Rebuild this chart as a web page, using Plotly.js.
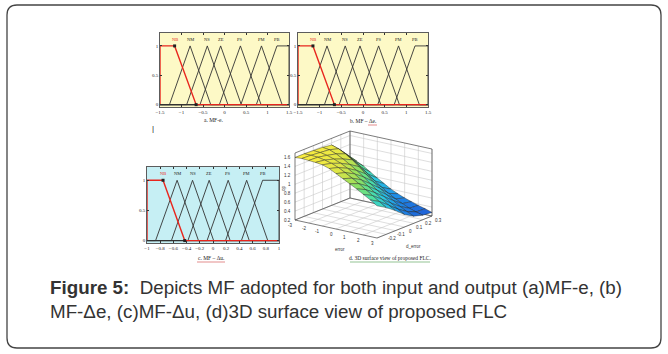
<!DOCTYPE html>
<html><head><meta charset="utf-8">
<script src="https://cdn.plot.ly/plotly-3.0.1.min.js"></script>
<style>html,body{margin:0;padding:0;background:#fff}#chart{width:668px;height:354px}</style>
</head><body><div id="chart"></div>
<script>
// ---- data ----
const mfNames = ['NB','NM','NS','ZE','PS','PM','PB'];
// triangle [a,b,c] / trapezoid [a,b,c,d] vertices
const mfE  = [[-1.5,-1.5,-1.16,-0.66],[-1.28,-0.80,-0.32],[-0.88,-0.40,0.08],[-0.57,-0.09,0.39],[-0.12,0.37,0.85],[0.38,0.86,1.34],[0.74,1.22,1.5,1.5]];
const mfDE = [[-1.5,-1.5,-1.155,-0.66],[-1.31,-0.83,-0.35],[-0.89,-0.41,0.07],[-0.55,-0.07,0.41],[-0.12,0.36,0.84],[0.34,0.82,1.30],[0.72,1.20,1.5,1.5]];
const mfDU = [[-1,-1,-0.757,-0.428],[-0.87,-0.544,-0.22],[-0.63,-0.31,0.01],[-0.38,-0.058,0.26],[-0.09,0.23,0.55],[0.19,0.51,0.83],[0.43,0.752,1,1]];
const rangeE = [-1.5, 1.5], rangeDE = [-1.5, 1.5], rangeDU = [-1, 1];
// 3D surface: op(error, d_error)
const errorVals  = [-3,-2.5,-2,-1.5,-1,-0.5,0,0.5,1,1.5,2,2.5,3];
const dErrorVals = [-0.3,-0.2,-0.1,0,0.1,0.2,0.3];
const opVals = [
  [1.60,1.61,1.60,1.59,1.57,1.52,1.44,1.36,1.28,1.20,1.11,1.02,0.92],
  [1.60,1.60,1.59,1.56,1.52,1.46,1.38,1.29,1.20,1.10,1.00,0.90,0.80],
  [1.59,1.58,1.55,1.50,1.44,1.36,1.27,1.17,1.06,0.95,0.84,0.74,0.65],
  [1.58,1.56,1.50,1.42,1.33,1.23,1.12,1.00,0.89,0.78,0.67,0.57,0.48],
  [1.55,1.50,1.42,1.32,1.20,1.07,0.94,0.82,0.71,0.61,0.51,0.43,0.36],
  [1.35,1.28,1.18,1.07,0.95,0.83,0.72,0.62,0.53,0.46,0.39,0.34,0.30],
  [1.10,1.06,0.98,0.88,0.78,0.69,0.60,0.53,0.47,0.42,0.37,0.33,0.28]
];
const errorTicks  = [-3,-2,-1,0,1,2,3];
const dErrorTicks = [-0.2,-0.1,0,0.1,0.2,0.3];
const opTicks     = [0.2,0.4,0.6,0.8,1,1.2,1.4,1.6];

// ---- helpers ----
const W = 668, H = 354;
const px = v => v / W, py = v => 1 - v / H;
const serif = 'Liberation Serif, Times New Roman, serif';

function mfLine(p, r) {
  if (p.length === 3) return {x:[r[0],p[0],p[1],p[2],r[1]], y:[0,0,1,0,0]};
  return {x:[r[0],p[0],p[1],p[2],p[3],r[1]], y:[0,0,1,1,0,0]};
}
const traces = [], annotations = [], shapes = [];
function addPanel(mfs, r, xa, ya, labelY) {
  mfs.forEach((p, i) => {
    if (i === 0) return;
    const l = mfLine(p, r);
    traces.push({type:'scatter', mode:'lines', x:l.x, y:l.y, xaxis:xa, yaxis:ya,
      line:{color:'#333', width:0.9}, hoverinfo:'skip', showlegend:false});
  });
  const nb = mfLine(mfs[0], r);
  traces.push({type:'scatter', mode:'lines', x:nb.x.slice(1), y:nb.y.slice(1), xaxis:xa, yaxis:ya,
    line:{color:'#e8261e', width:1.4}, hoverinfo:'skip', showlegend:false});
  traces.push({type:'scatter', mode:'markers', x:[mfs[0][2], mfs[0][3]], y:[1,0], xaxis:xa, yaxis:ya,
    marker:{symbol:'square', size:3, color:'#222'}, hoverinfo:'skip', showlegend:false});
  mfs.forEach((p, i) => {
    const cx = p.length === 3 ? p[1] : (i === 0 ? p[2] : p[1]);
    annotations.push({xref:xa, yref:ya, x:cx, y:labelY, xanchor:'center', yanchor:'middle', text:mfNames[i], showarrow:false,
      font:{family:serif, size:4.5, color: i === 0 ? '#e8261e' : '#222'}});
  });
}
addPanel(mfE, rangeE, 'x', 'y', 1.11);
addPanel(mfDE, rangeDE, 'x2', 'y2', 1.11);
addPanel(mfDU, rangeDU, 'x3', 'y3', 1.12);

// ---- 3D surface drawn as an orthographic projection on a pixel-space overlay axis ----
const xR = [-3,3], yR = [-0.3,0.3], zR = [0.2,1.7];
const O = [295,220], EX = [82,18], EY = [55,-22], EZ = [0,-67];
function proj(x, y, z) {
  const a = (x-xR[0])/(xR[1]-xR[0]), b = (y-yR[0])/(yR[1]-yR[0]), c = (z-zR[0])/(zR[1]-zR[0]);
  return [O[0]+EX[0]*a+EY[0]*b+EZ[0]*c, O[1]+EX[1]*a+EY[1]*b+EZ[1]*c];
}
const pLine = (pts, color, width) => {
  const pp = pts.map(p => proj(p[0],p[1],p[2]));
  traces.push({type:'scatter', mode:'lines', x:pp.map(p=>p[0]), y:pp.map(p=>p[1]), xaxis:'x4', yaxis:'y4',
    line:{color:color, width:width}, hoverinfo:'skip', showlegend:false});
};
const GRID = '#c8c8c8', BOX = '#444';
errorTicks.forEach(t => { pLine([[t,yR[0],zR[0]],[t,yR[1],zR[0]],[t,yR[1],zR[1]]], GRID, 0.6); });
dErrorTicks.forEach(t => { pLine([[xR[1],t,zR[0]],[xR[0],t,zR[0]],[xR[0],t,zR[1]]], GRID, 0.6); });
opTicks.forEach(t => { pLine([[xR[0],yR[0],t],[xR[0],yR[1],t],[xR[1],yR[1],t]], GRID, 0.6); });
pLine([[xR[0],yR[0],zR[1]],[xR[0],yR[0],zR[0]],[xR[0],yR[1],zR[0]],[xR[1],yR[1],zR[0]],[xR[1],yR[1],zR[1]]], BOX, 0.7);
pLine([[xR[0],yR[1],zR[0]],[xR[0],yR[1],zR[1]]], BOX, 0.7);
pLine([[xR[0],yR[0],zR[1]],[xR[0],yR[1],zR[1]],[xR[1],yR[1],zR[1]]], BOX, 0.7);
pLine([[xR[0],yR[0],zR[0]],[xR[1],yR[0],zR[0]],[xR[1],yR[1],zR[0]]], BOX, 0.7);

const cstops = [[0,[31,95,214]],[0.2,[31,143,232]],[0.4,[44,200,224]],[0.55,[79,224,160]],[0.7,[143,224,96]],[0.85,[216,228,72]],[1,[248,236,64]]];
const allZ = opVals.flat(), zMin = Math.min(...allZ), zMax = Math.max(...allZ);
function cmap(z) {
  const t = Math.max(0, Math.min(1, (z-zMin)/(zMax-zMin)));
  for (let i = 1; i < cstops.length; i++) {
    if (t <= cstops[i][0]) {
      const f = (t-cstops[i-1][0])/(cstops[i][0]-cstops[i-1][0]);
      const c = cstops[i-1][1].map((v,k) => Math.round(v + f*(cstops[i][1][k]-v)));
      return `rgb(${c[0]},${c[1]},${c[2]})`;
    }
  }
  return 'rgb(248,236,64)';
}
const cells = [];
for (let j = 0; j < dErrorVals.length-1; j++) for (let i = 0; i < errorVals.length-1; i++) {
  const c = [[i,j],[i+1,j],[i+1,j+1],[i,j+1]].map(([a,b]) => [errorVals[a], dErrorVals[b], opVals[b][a]]);
  const zAvg = c.reduce((s,p)=>s+p[2],0)/4;
  const key = 18*(i+0.5)/(errorVals.length-1) - 22*(j+0.5)/(dErrorVals.length-1);
  cells.push({c, zAvg, key});
}
cells.sort((a,b) => a.key - b.key);
cells.forEach(cell => {
  const pp = cell.c.concat([cell.c[0]]).map(p => proj(p[0],p[1],p[2]));
  traces.push({type:'scatter', mode:'lines', x:pp.map(p=>p[0]), y:pp.map(p=>p[1]), xaxis:'x4', yaxis:'y4',
    fill:'toself', fillcolor:cmap(cell.zAvg), line:{color:'#1e1e1e', width:0.4}, hoverinfo:'skip', showlegend:false});
});
const f3 = {family:'Liberation Sans, Arial', size:4.5, color:'#333'};
const a3 = (x, y, text, extra) => annotations.push(Object.assign({xref:'x4', yref:'y4', x:x, y:y, text:text,
  showarrow:false, xanchor:'center', yanchor:'middle', font:f3}, extra||{}));
errorTicks.forEach(t => { const p = proj(t, yR[0], zR[0]); a3(p[0]-5, p[1]+5, String(t)); });
dErrorTicks.forEach(t => { const p = proj(xR[1], t, zR[0]); a3(p[0]+6, p[1]+4, String(t)); });
opTicks.forEach(t => { const p = proj(xR[0], yR[0], t); a3(p[0]-2, p[1], String(t), {xanchor:'right'}); });
a3(283, 188, 'op', {textangle:-90});
a3(340, 249, 'error');
a3(413, 246, 'd_error');

function ax(domain, range, extra) {
  return Object.assign({domain:domain, range:range, showgrid:false, zeroline:false,
    showline:true, mirror:'ticks', linecolor:'#333', linewidth:0.8, ticks:'inside', ticklen:2,
    tickcolor:'#333', tickfont:{family:serif, size:5, color:'#222'}, fixedrange:true}, extra||{});
}
const yDomAB = [py(107), py(33)];
const layout = {
  width:W, height:H, margin:{l:0,r:0,t:0,b:0}, paper_bgcolor:'#fff', plot_bgcolor:'rgba(0,0,0,0)',
  showlegend:false, font:{family:serif},
  xaxis: ax([px(160), px(289)], rangeE, {anchor:'y', dtick:0.5}),
  yaxis: ax(yDomAB, [-0.04,1.22], {anchor:'x', tickvals:[0,0.5,1]}),
  xaxis2: ax([px(298), px(428)], rangeDE, {anchor:'y2', dtick:0.5}),
  yaxis2: ax(yDomAB, [-0.04,1.22], {anchor:'x2', tickvals:[0,0.5,1]}),
  xaxis3: ax([px(147), px(279)], rangeDU, {anchor:'y3', dtick:0.2}),
  yaxis3: ax([py(243), py(167)], [-0.04,1.22], {anchor:'x3', tickvals:[0,0.5,1]}),
  xaxis4: {domain:[0,1], range:[0,W], visible:false, fixedrange:true, anchor:'y4'},
  yaxis4: {domain:[0,1], range:[H,0], visible:false, fixedrange:true, anchor:'x4'},
  annotations: annotations,
  shapes: shapes
};
[['x','y','#fdf9c6'],['x2','y2','#fdf9c6'],['x3','y3','#c6eff4']].forEach(a => {
  shapes.push({type:'rect', xref:a[0]+' domain', yref:a[1]+' domain', x0:0, x1:1, y0:0, y1:1,
    fillcolor:a[2], line:{width:0}, layer:'below'});
});
const L = px(7), R = px(661), T = py(5), B = py(348), rx = px(10), ry = 10 / H;
shapes.push({type:'path', xref:'paper', yref:'paper', line:{color:'#444', width:1.3},
  path:`M ${L+rx},${T} L ${R-rx},${T} Q ${R},${T} ${R},${T-ry} L ${R},${B+ry} Q ${R},${B} ${R-rx},${B} L ${L+rx},${B} Q ${L},${B} ${L},${B+ry} L ${L},${T-ry} Q ${L},${T} ${L+rx},${T} Z`});

const sub = (text, x, y) => annotations.push({xref:'paper', yref:'paper', x:px(x), y:py(y), text:text,
  xanchor:'center', yanchor:'middle', showarrow:false, font:{family:serif, size:5.5, color:'#222'}});
sub('a. MF-e.', 213, 120);
sub('b. MF \u2013 \u0394e.', 363, 121);
sub('c. MF \u2013 \u0394u.', 211, 258);
sub('d. 3D surface view of proposed FLC.', 390, 258);
annotations.push({xref:'paper', yref:'paper', x:px(153), y:py(128), xanchor:'center', yanchor:'middle', text:'|', showarrow:false,
  font:{family:'Liberation Sans, Arial', size:8, color:'#222'}});
shapes.push({type:'line', xref:'paper', yref:'paper', x0:px(197), x1:px(225), y0:py(262), y1:py(262), line:{color:'#d04040', width:0.6}});
shapes.push({type:'line', xref:'paper', yref:'paper', x0:px(350), x1:px(430), y0:py(262), y1:py(262), line:{color:'#4a9a4a', width:0.6}});
shapes.push({type:'line', xref:'paper', yref:'paper', x0:px(368), x1:px(377), y0:py(125), y1:py(125), line:{color:'#d04040', width:0.6}});

const capFont = {family:'Liberation Sans, Arial, sans-serif', size:18.8, color:'#333'};
annotations.push({xref:'paper', yref:'paper', x:px(48), y:py(287), xanchor:'left', yanchor:'middle', showarrow:false,
  text:'<b>Figure 5:</b>\u00a0 Depicts MF adopted for both input and output (a)MF-e, (b)', font:capFont});
annotations.push({xref:'paper', yref:'paper', x:px(48), y:py(311), xanchor:'left', yanchor:'middle', showarrow:false,
  text:'MF-\u0394e, (c)MF-\u0394u, (d)3D surface view of proposed FLC', font:capFont});

Plotly.newPlot('chart', traces, layout, {displayModeBar:false, staticPlot:true});
</script></body></html>
